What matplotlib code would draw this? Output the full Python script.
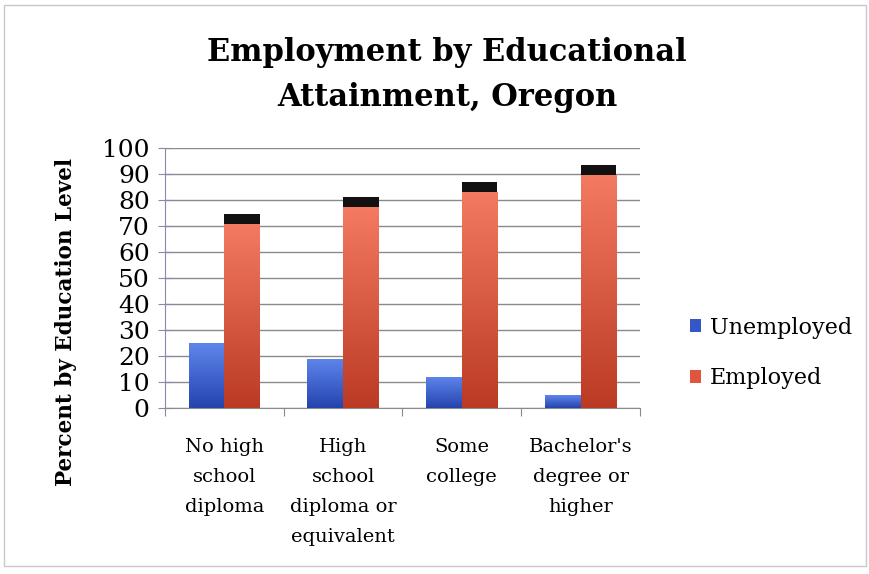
import matplotlib
matplotlib.use("Agg")
import matplotlib.pyplot as plt
import numpy as np
from matplotlib.patches import Patch, Rectangle
from matplotlib.colors import LinearSegmentedColormap

categories = ["No high\nschool\ndiploma", "High\nschool\ndiploma or\nequivalent",
              "Some\ncollege", "Bachelor's\ndegree or\nhigher"]
unemployed = [25, 19, 12, 5]
employed = [74.5, 81, 87, 93.5]
yticks = [0, 10, 20, 30, 40, 50, 60, 70, 80, 90, 100]

FONT = "DejaVu Serif"
plt.rcParams['font.family'] = [FONT]

fig = plt.figure(figsize=(8.7, 5.74), dpi=100)
ax = fig.add_axes([165/870, 1-408/574, 475/870, 260/574])

x = np.arange(len(categories))
w = 0.3
cap = 3.8

blue_cmap = LinearSegmentedColormap.from_list("b", ["#2444ad", "#5f86ec"])
red_cmap = LinearSegmentedColormap.from_list("r", ["#bb3a24", "#f47a62"])

bu = ax.bar(x - w/2, unemployed, w, color="#4a6ad8", zorder=3)
be = ax.bar(x + w/2, [e - cap for e in employed], w, color="#d9553d", zorder=3)
bc = ax.bar(x + w/2, [cap]*len(employed), w, bottom=[e - cap for e in employed],
            color="#111111", zorder=3)

grad = np.linspace(0, 1, 256).reshape(-1, 1)
for bars, cmap in ((bu, blue_cmap), (be, red_cmap)):
    for p in bars:
        x0, y0, h = p.get_x(), p.get_y(), p.get_height()
        im = ax.imshow(grad, cmap=cmap, aspect='auto', origin='lower',
                       extent=(x0, x0 + p.get_width(), y0, y0 + h), zorder=3.5)
        im.set_clip_path(p)

ax.set_xlim(-0.5, len(categories) - 0.5)
ax.set_ylim(0, 100)
ax.set_yticks(yticks)
ax.set_yticklabels([str(v) for v in yticks], fontsize=18)
ax.yaxis.grid(True, color="#8a8a8a", linewidth=1.0, zorder=0)
ax.set_axisbelow(True)

ax.set_xticks(np.arange(-0.5, len(categories), 1.0))
ax.set_xticklabels([])
ax.tick_params(axis='x', length=6, color="#8a8a8a", direction='out')
ax.tick_params(axis='y', length=10, color="#8a8aa8", direction='inout', pad=6)
for i, c in enumerate(categories):
    ax.text(i, -11.5, c, ha='center', va='top', fontsize=14, linespacing=1.85,
            transform=ax.transData)

for s in ("top", "right"):
    ax.spines[s].set_visible(False)
ax.spines["left"].set_color("#8a8aa8")
ax.spines["bottom"].set_color("#8a8a8a")

fig.text(447/870, 1-75/574, "Employment by Educational\nAttainment, Oregon",
         ha='center', va='center', fontsize=22, fontweight='bold', linespacing=1.6)
fig.text(66/870, 1-322/574, "Percent by Education Level", rotation=90,
         ha='center', va='center', fontsize=15.5, fontweight='bold')

handles = [Patch(facecolor="#3556c8", label="Unemployed"),
           Patch(facecolor="#e0553d", label="Employed")]
fig.legend(handles=handles, loc='center left', bbox_to_anchor=(670/870, 1-353/574),
           frameon=False, fontsize=16, handlelength=0.5, handleheight=0.5,
           handletextpad=0.4, labelspacing=1.3)

fig.patches.append(Rectangle((4/870, 1-566/574), 862/870, 561/574, transform=fig.transFigure,
                             fill=False, edgecolor="#c8c8c8", linewidth=1.0))

fig.savefig("out.png", dpi=100)
